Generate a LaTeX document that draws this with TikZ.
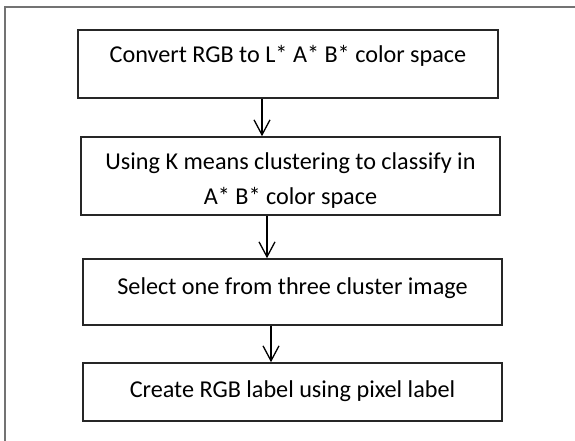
\documentclass[tikz,border=0pt]{standalone}
\usepackage{fontspec}
\setmainfont{Carlito}
\usetikzlibrary{arrows.meta}
\begin{document}
\begin{tikzpicture}[x=1pt,y=-1pt,
  stepbox/.style={draw=black!85, line width=1.6pt, rectangle, inner sep=0pt},
  lbl/.style={font=\fontsize{24.2}{35}\selectfont, text=black, inner sep=0pt, align=center},
  arr/.style={draw=black, line width=1.3pt, -{Straight Barb[length=15pt,width=16pt,line width=1.3pt]}},
  frame/.style={draw=black!55, line width=1.6pt}]
\useasboundingbox (0,0) rectangle (575,441);
\clip (0,0) rectangle (575,441);
\coordinate (fr) at (620,7);
\coordinate (fc) at (5,7);
\coordinate (fb) at (5,480);
\draw[frame] (fr) -- (fc) -- (fb);
\node[stepbox, minimum width=420pt, minimum height=68pt] (b1) at (288,64) {};
\node[stepbox, minimum width=419pt, minimum height=78pt] (b2) at (290.5,176) {};
\node[stepbox, minimum width=419pt, minimum height=66pt] (b3) at (292.5,292) {};
\node[stepbox, minimum width=419pt, minimum height=58pt] (b4) at (292.5,392) {};
\node[lbl] (t1) at (288,56) {Convert RGB to L* A* B* color space};
\node[lbl] (t2) at (290.5,181) {Using K means clustering to classify in\\A* B* color space};
\node[lbl] (t3) at (292.5,288) {Select one from three cluster image};
\node[lbl] (t4) at (292.5,391) {Create RGB label using pixel label};
\coordinate (x1) at (262,0);
\coordinate (x2) at (267,0);
\coordinate (x3) at (271,0);
\draw[arr] (b1.south -| x1) -- (b2.north -| x1);
\draw[arr] (b2.south -| x2) -- (b3.north -| x2);
\draw[arr] (b3.south -| x3) -- (b4.north -| x3);
\end{tikzpicture}
\end{document}
